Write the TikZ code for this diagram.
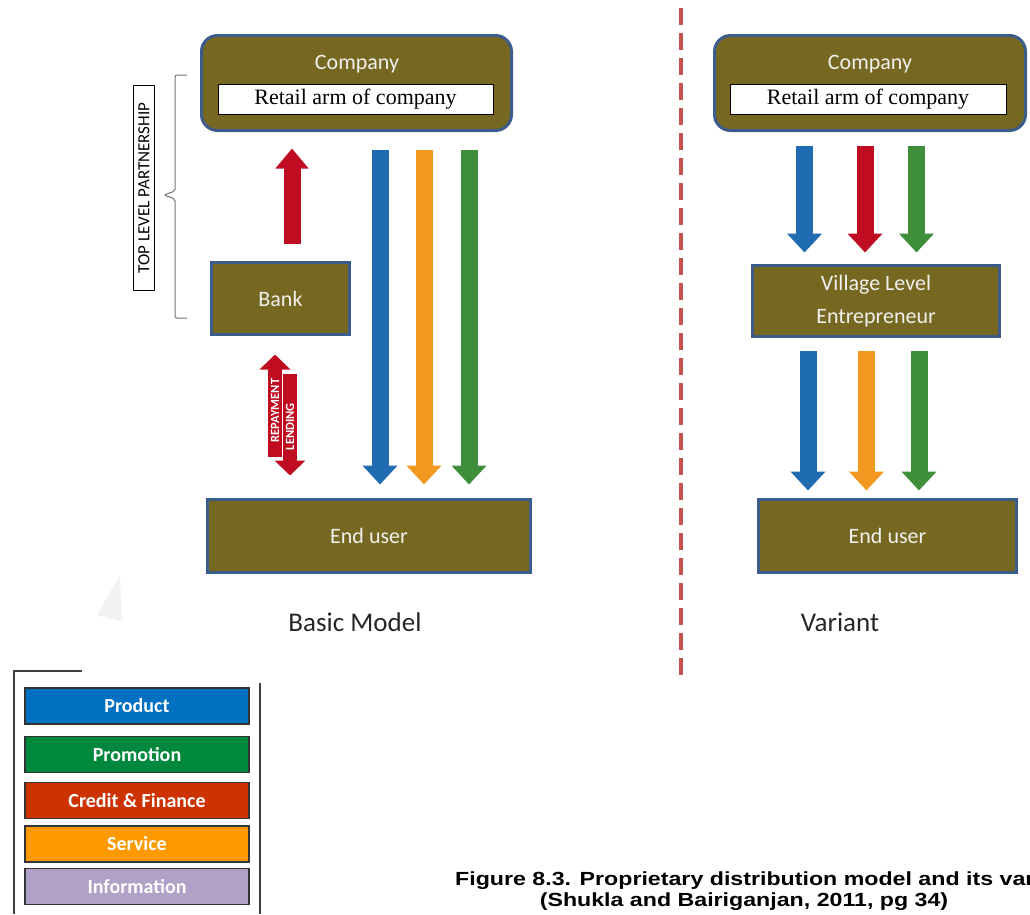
\documentclass[tikz,border=0pt]{standalone}
\usepackage{fontspec}
\setmainfont{Carlito}
\newfontfamily\retailfont{Liberation Serif}
\newfontfamily\capfont[FakeStretch=1.22]{Liberation Sans}
\usetikzlibrary{arrows.meta}

\definecolor{boxolive}{RGB}{118,104,32}
\definecolor{boxedge}{RGB}{60,92,140}
\definecolor{flowblue}{RGB}{31,108,178}
\definecolor{floworange}{RGB}{242,152,32}
\definecolor{flowgreen}{RGB}{62,142,58}
\definecolor{flowred}{RGB}{192,12,32}
\definecolor{dashred}{RGB}{200,82,78}
\definecolor{keyblue}{RGB}{0,112,192}
\definecolor{keygreen}{RGB}{0,137,60}
\definecolor{keyred}{RGB}{204,51,0}
\definecolor{keyorange}{RGB}{255,153,0}
\definecolor{keypurple}{RGB}{178,161,199}

\tikzset{
  box/.style={draw=boxedge, line width=3pt, fill=boxolive, inner sep=0pt},
  lbl/.style={text=white!94!black, font=\fontsize{22}{26}\selectfont},
  retail/.style={draw=black, line width=0.8pt, fill=white, minimum width=275pt,
    minimum height=30pt, inner sep=0pt, font=\retailfont\fontsize{22}{26}\selectfont},
  fat/.style={line width=17pt, -{Triangle[width=34pt,length=19pt]}},
  slim/.style={draw=flowred, line width=14pt, -{Triangle[width=30pt,length=15pt]}},
  slimlbl/.style={rotate=90, inner sep=0pt, text=white, font=\bfseries\fontsize{12.5}{12}\selectfont},
  key/.style={draw=black!80, line width=1.5pt, minimum width=224pt, minimum height=36pt,
    text=white, font=\bfseries\fontsize{20}{22}\selectfont},
  capline/.style={font=\capfont\bfseries\fontsize{19}{21}\selectfont}
}

\begin{document}
\begin{tikzpicture}[x=1pt, y=-1pt]
  \useasboundingbox (0,0) rectangle (1030,914);
  \clip (0,0) rectangle (1030,914);

  % faint mark left of the model
  \fill[black!5] (120,575) -- (97,615) -- (122,622) -- cycle;

  % divider between the two models
  \draw[dashred, line width=3.5pt, dash pattern=on 17pt off 8pt] (681,8) -- (681,678);

  % Basic model
  \node[box, rounded corners=16pt, minimum width=310pt, minimum height=95pt] (comp1) at (356.5,83) {};
  \node[lbl] (comp1lbl) at (357,64) {Company};
  \node[retail] (ret1) at (355.5,99) {Retail arm of company};
  \node[box, lbl, minimum width=138pt, minimum height=72pt] (bank) at (280.5,298.5) {Bank};
  \node[box, lbl, minimum width=323pt, minimum height=73pt] (user1) at (369,536) {End user};

  \draw[fat, flowred, -{Triangle[width=32pt,length=20pt]}, shorten <=17.5pt, shorten >=16.5pt]
    (292,0 |- bank.north) -- (292,0 |- comp1.south);
  \foreach \x/\c in {380/flowblue, 424/floworange, 469/flowgreen}
    \draw[fat, \c, shorten <=17.5pt, shorten >=13.5pt] (\x,0 |- comp1.south) -- (\x,0 |- user1.north);

  % repayment / lending between bank and end user
  \draw[slim, shorten <=41.5pt, shorten >=18.5pt] (275,0 |- user1.north) -- (275,0 |- bank.south)
    node[slimlbl, pos=0.54] {REPAYMENT};
  \draw[slim, shorten <=37.5pt, shorten >=22.5pt] (290,0 |- bank.south) -- (290,0 |- user1.north)
    node[slimlbl, pos=0.56] {LENDING};

  % partnership bracket
  \node[draw, line width=1pt, rotate=90, minimum width=205pt, minimum height=21pt, inner sep=0pt,
    font=\fontsize{17}{17}\selectfont] (tlp) at (144,188) {TOP LEVEL PARTNERSHIP};
  \draw[black!55, line width=1pt, rounded corners=2pt]
    (187,75) -- (175,75) -- (175,191) -- (164,195) -- (175,199) -- (175,318) -- (187,318);

  % Variant
  \node[box, rounded corners=16pt, minimum width=311pt, minimum height=95pt] (comp2) at (870,83) {};
  \node[lbl] (comp2lbl) at (870,64) {Company};
  \node[retail, minimum width=276pt] (ret2) at (868,99) {Retail arm of company};
  \node[box, lbl, minimum width=247pt, minimum height=71pt, align=center,
    font=\fontsize{22}{33}\selectfont] (vle) at (876,301) {Village Level\\Entrepreneur};
  \node[box, lbl, minimum width=258pt, minimum height=73pt] (user2) at (887.5,536) {End user};

  \foreach \x/\c in {804.5/flowblue, 865/flowred, 916.5/flowgreen}
    \draw[fat, \c, shorten <=13.5pt, shorten >=11.5pt] (\x,0 |- comp2.south) -- (\x,0 |- vle.north);
  \foreach \x/\c in {808/flowblue, 866.5/floworange, 919/flowgreen}
    \draw[fat, \c, shorten <=12.5pt, shorten >=7.5pt] (\x,0 |- vle.south) -- (\x,0 |- user2.north);

  % titles
  \node[text=black!85, font=\fontsize{27}{30}\selectfont] (basic) at (355,622) {Basic Model};
  \node[text=black!85, font=\fontsize{27}{30}\selectfont] (variant) at (840,622) {Variant};

  % legend
  \draw[black!75, line width=2pt] (82,671) -- (14,671) -- (14,914);
  \draw[black!75, line width=2pt] (260,683) -- (260,914);
  \foreach \y/\c/\t [count=\i] in {706/keyblue/Product, 754.5/keygreen/Promotion,
      800.5/keyred/Credit \& Finance, 844/keyorange/Service, 886.5/keypurple/Information}
    \node[key, fill=\c] (key\i) at (137,\y) {\t};

  % caption
  \node[capline, anchor=base west, inner sep=0pt] (cap1) at (455,885)
    {Figure 8.3. Proprietary distribution model and its var};
  \node[capline, anchor=base, inner sep=0pt] (cap2) at (744,906)
    {(Shukla and Bairiganjan, 2011, pg 34)};
\end{tikzpicture}
\end{document}
